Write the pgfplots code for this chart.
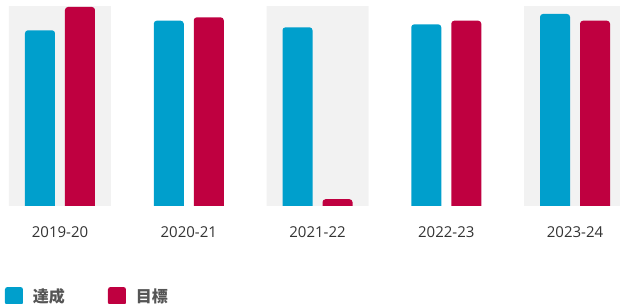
\documentclass[border=0pt]{standalone}
\usepackage{pgfplots}
\pgfplotsset{compat=1.18}
\usepackage{fontspec}
\setmainfont{Open Sans}
\newfontfamily\cjk{Noto Sans CJK JP}
\definecolor{cblue}{RGB}{0,159,204}
\definecolor{cred}{RGB}{191,0,64}
\definecolor{band}{RGB}{242,242,242}
\definecolor{txt}{RGB}{51,51,51}
\definecolor{legtxt}{RGB}{85,85,85}
\begin{document}
\begin{tikzpicture}
\useasboundingbox (0pt,0pt) rectangle (620pt,304pt);
\begin{axis}[
  at={(0pt,94.02pt)}, anchor=south west,
  scale only axis, width=620pt, height=202.98pt,
  xmin=-0.466, xmax=4.3495,
  ymin=0, ymax=102,
  y filter/.expression={y+2},
  axis line style={draw=none},
  xtick={0,1,2,3,4},
  xticklabels={2019-20,2020-21,2021-22,2022-23,2023-24},
  xtick style={draw=none},
  ytick=\empty,
  xticklabel style={font=\fontsize{15}{18}\selectfont, text=txt, anchor=base, yshift=-27.7pt},
  legend style={at={(axis description cs:0.00806,-0.4238)}, anchor=west, draw=none, fill=none, inner sep=0pt, outer sep=0pt,
    legend columns=2, column sep=0pt,
    /tikz/every odd column/.append style={column sep=10pt},
    nodes={inner sep=0pt, text width=75pt, align=left, font=\cjk\bfseries\fontsize{16}{19}\selectfont, text=legtxt}},
]
\addplot[ybar, bar width=102pt, bar shift=0pt, fill=band, draw=none, forget plot]
  coordinates {(0,110) (2,110) (4,110)};
\addplot[ybar, bar width=30pt, bar shift=-20pt, fill=cblue, draw=none, rounded corners=3pt,
  legend image code/.code={\fill[cblue, rounded corners=2.5pt] (0pt,-9pt) rectangle (18pt,9pt);}]
  coordinates {(0,88.3) (1,93.1) (2,89.8) (3,91.3) (4,96.5)};
\addplot[ybar, bar width=30pt, bar shift=20pt, fill=cred, draw=none, rounded corners=3pt,
  legend image code/.code={\fill[cred, rounded corners=2.5pt] (0pt,-9pt) rectangle (18pt,9pt);}]
  coordinates {(0,100) (1,94.8) (2,3.4) (3,93.1) (4,93.1)};
\legend{達成,目標}
\fill[white] (axis cs:-0.466,0) rectangle (axis cs:4.3495,2);
\end{axis}
\end{tikzpicture}
\end{document}
